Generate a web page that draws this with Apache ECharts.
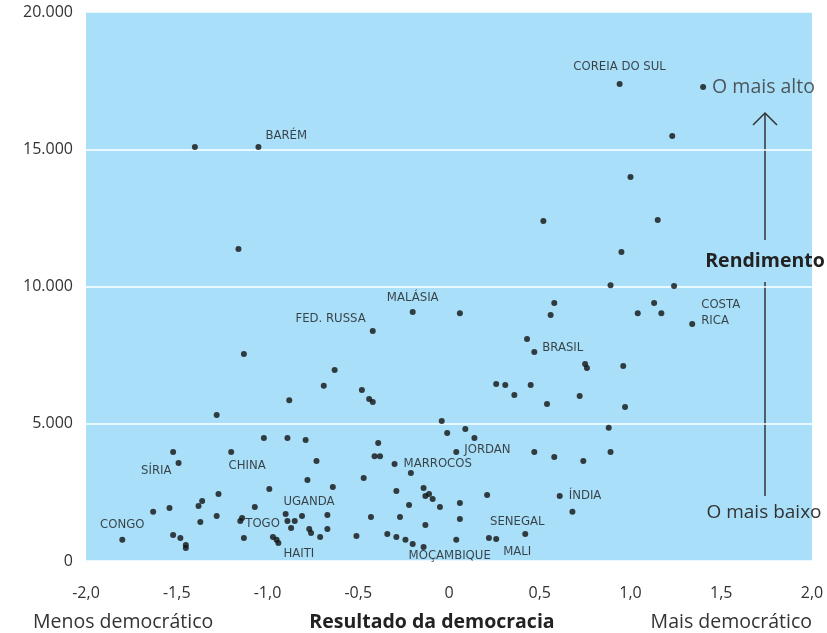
<!DOCTYPE html>
<html>
<head>
<meta charset="utf-8">
<script src="https://cdn.jsdelivr.net/npm/echarts@6/dist/echarts.min.js"></script>
<style>
html,body{margin:0;padding:0;background:#fff;}
#chart{width:827px;height:633px;}
</style>
</head>
<body>
<div id="chart"></div>
<script>
// resultado da democracia (x) / rendimento per capita (y)
var demo = [
  -1.40, -1.05, -1.16, 0.94, 1.40, 1.23, 1.00, 0.52, 1.15, 0.95,
  0.89, 1.24, -0.20, 0.06, -0.42, -1.13, -0.63, -0.69, -0.48, -0.88,
  -0.44, -0.42, -1.28, -0.04, -0.01, -1.02, -0.89, -0.79, -0.39, -1.52,
  -1.20, -0.41, -0.38, 0.04, 0.09, 0.14, -1.49, -0.73, -0.30, -0.21,
  -0.47, -0.78, -0.99, -0.64, -0.29, -0.14, -0.11, -0.13, -0.09, -1.27,
  -1.36, -1.38, -1.07, -1.54, -1.63, -0.22, -0.05, 0.06, -0.90, -0.81,
  -0.67, -1.28, -1.14, -1.15, -0.89, -0.85, -1.37, -0.43, -0.27, 0.06,
  -0.13, -0.87, -0.77, -0.76, -0.67, -1.52, -1.48, -1.45, -1.45, -1.13,
  -0.97, -0.95, -0.94, -0.71, -0.51, -0.34, -0.29, -0.24, -0.20, -0.14,
  0.04, -1.80, 0.58, 0.56, 1.04, 1.13, 1.17, 1.34, 0.43, 0.47,
  0.75, 0.76, 0.96, 0.26, 0.31, 0.45, 0.36, 0.72, 0.54, 0.97,
  0.88, 0.47, 0.58, 0.74, 0.89, 0.21, 0.61, 0.68, 0.22, 0.26,
  0.42
];
var income = [
  15080, 15080, 11370, 17380, 17270, 15480, 13990, 12390, 12420, 11260,
  10050, 10020, 9070, 9030, 8380, 7540, 6960, 6380, 6230, 5860,
  5900, 5790, 5320, 5100, 4660, 4480, 4480, 4410, 4300, 3970,
  3970, 3820, 3820, 3970, 4810, 4480, 3570, 3640, 3530, 3210,
  3020, 2950, 2620, 2700, 2550, 2660, 2440, 2370, 2260, 2440,
  2190, 2000, 1970, 1930, 1790, 2040, 1970, 2110, 1710, 1640,
  1680, 1640, 1570, 1460, 1460, 1460, 1420, 1600, 1600, 1530,
  1310, 1200, 1170, 1020, 1170, 950, 840, 580, 470, 840,
  870, 770, 660, 870, 910, 980, 870, 770, 620, 510,
  770, 770, 9400, 8960, 9030, 9400, 9030, 8630, 8090, 7610,
  7180, 7030, 7100, 6450, 6410, 6410, 6050, 6010, 5720, 5610,
  4850, 3970, 3790, 3640, 3970, 2400, 2370, 1790, 840, 800,
  980
];
var country = [
  '', 'BARÉM', '', 'COREIA DO SUL', 'O mais alto', '', '', '', '', '',
  '', '', 'MALÁSIA', '', 'FED. RUSSA', '', '', '', '', '',
  '', '', '', '', '', '', '', '', '', '',
  'CHINA', '', '', 'JORDAN', '', '', 'SÍRIA', '', 'MARROCOS', '',
  '', '', '', '', '', '', '', '', '', '',
  '', '', '', '', '', '', '', '', '', 'UGANDA',
  '', '', '', 'TOGO', '', '', '', '', '', '',
  '', '', '', '', '', '', '', '', '', '',
  '', '', 'HAITI', '', '', '', '', '', '', 'MOÇAMBIQUE',
  '', 'CONGO', '', '', '', '', '', 'COSTA\nRICA', '', 'BRASIL',
  '', '', '', '', '', '', '', '', '', '',
  '', '', '', '', '', '', 'ÍNDIA', '', '', 'MALI',
  'SENEGAL'
];
var xTicks = [-2, -1.5, -1, -0.5, 0, 0.5, 1, 1.5, 2];
var yTicks = [0, 5000, 10000, 15000, 20000];

var labelFont = "'DejaVu Sans Condensed', 'Liberation Sans Narrow', sans-serif";
var bigFont = "'Open Sans', 'Noto Sans', sans-serif";

// where each country name sits relative to its dot
var labelPlace = {
  'BARÉM': {position: 'right', distance: 4, offset: [0, -11]},
  'COREIA DO SUL': {position: 'top', distance: 8},
  'O mais alto': {position: 'right', distance: 6, fontSize: 19.5, fontFamily: bigFont, color: '#333'},
  'MALÁSIA': {position: 'top', distance: 5},
  'FED. RUSSA': {position: 'left', distance: 4, offset: [0, -12]},
  'CHINA': {position: 'bottom', distance: 4, offset: [16, 0]},
  'SÍRIA': {position: 'left', distance: 4, offset: [0, 8]},
  'MARROCOS': {position: 'right', distance: 6},
  'JORDAN': {position: 'right', distance: 5, offset: [0, -2]},
  'BRASIL': {position: 'right', distance: 5, offset: [0, -4]},
  'COSTA\nRICA': {position: 'right', distance: 6, offset: [0, -11], lineHeight: 16},
  'ÍNDIA': {position: 'right', distance: 6},
  'UGANDA': {position: 'top', distance: 5, offset: [7, 0]},
  'TOGO': {position: 'right', distance: 2, offset: [0, 3]},
  'HAITI': {position: 'right', distance: 2, offset: [0, 11]},
  'CONGO': {position: 'top', distance: 6},
  'MOÇAMBIQUE': {position: 'right', distance: 0, offset: [-18, 9]},
  'SENEGAL': {position: 'top', distance: 3, offset: [-8, 0]},
  'MALI': {position: 'right', distance: 4, offset: [0, 13]}
};

var points = demo.map(function (d, i) {
  var item = {value: [d, income[i]], name: country[i]};
  var place = labelPlace[country[i]];
  if (place) {
    item.label = Object.assign({
      show: true,
      formatter: '{b}',
      color: '#1a1a1a',
      fontSize: 13,
      fontFamily: labelFont
    }, place);
  }
  return item;
});

function fmtX(v) {
  if (v === 0) return '0';
  return v.toFixed(1).replace('.', ',');
}
function fmtY(v) {
  if (v === 0) return '0';
  return (v / 1000) + '.000';
}

var myChart = echarts.init(document.getElementById('chart'));
myChart.setOption({
  animation: false,
  backgroundColor: '#fff',
  textStyle: {fontFamily: bigFont},
  grid: {
    left: 86, right: 15, top: 12, bottom: 72,
    show: true, backgroundColor: '#a9dff9', borderWidth: 0
  },
  xAxis: {
    type: 'value',
    min: xTicks[0], max: xTicks[xTicks.length - 1], interval: 0.5,
    axisLine: {show: false},
    axisTick: {show: false},
    splitLine: {show: false},
    axisLabel: {formatter: fmtX, color: '#333', fontSize: 16, margin: 24, fontFamily: bigFont}
  },
  yAxis: {
    type: 'value',
    min: yTicks[0], max: yTicks[yTicks.length - 1], interval: 5000,
    axisLine: {show: false},
    axisTick: {show: false},
    splitLine: {lineStyle: {color: '#ffffff', width: 1.5}},
    axisLabel: {formatter: fmtY, color: '#333', fontSize: 16, margin: 13, fontFamily: bigFont}
  },
  series: [{
    type: 'scatter',
    symbolSize: 6,
    itemStyle: {color: '#111'},
    label: {show: false},
    data: points
  }],
  graphic: [
    {type: 'line', shape: {x1: 765, y1: 114, x2: 765, y2: 240}, style: {stroke: '#333', lineWidth: 1.5}},
    {type: 'polyline', shape: {points: [[753, 125], [765, 113], [777, 125]]}, style: {stroke: '#333', lineWidth: 1.5, fill: null}},
    {type: 'line', shape: {x1: 765, y1: 282, x2: 765, y2: 496}, style: {stroke: '#333', lineWidth: 1.5}},
    {type: 'text', x: 765, y: 261, style: {text: 'Rendimento', fontSize: 19.5, fontWeight: 'bold', fontFamily: bigFont, fill: '#222', align: 'center', verticalAlign: 'middle'}},
    {type: 'text', x: 764, y: 513, style: {text: 'O mais baixo', fontSize: 19, fontFamily: bigFont, fill: '#333', align: 'center', verticalAlign: 'middle'}},
    {type: 'text', x: 33, y: 622, style: {text: 'Menos democrático', fontSize: 19.5, fontFamily: bigFont, fill: '#333', align: 'left', verticalAlign: 'middle'}},
    {type: 'text', x: 432, y: 622, style: {text: 'Resultado da democracia', fontSize: 19.5, fontWeight: 'bold', fontFamily: bigFont, fill: '#222', align: 'center', verticalAlign: 'middle'}},
    {type: 'text', x: 812, y: 622, style: {text: 'Mais democrático', fontSize: 19.5, fontFamily: bigFont, fill: '#333', align: 'right', verticalAlign: 'middle'}}
  ]
});
</script>
</body>
</html>
